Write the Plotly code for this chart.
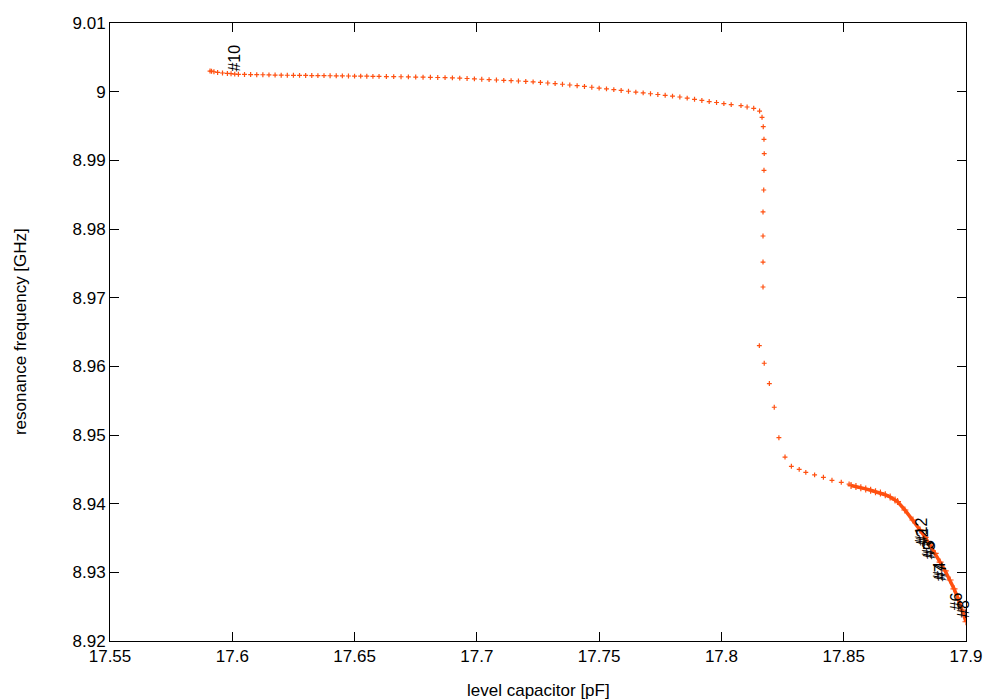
import plotly.graph_objects as go

# ---- data ----
# start cluster + upper plateau + vertical drop + knee (sparse markers)
cap_sparse = [
    17.5909, 17.5915, 17.5925, 17.5940, 17.5960, 17.5980, 17.5995, 17.6010,
    17.6025, 17.6050, 17.6075, 17.6100, 17.6125, 17.6150, 17.6175, 17.6200,
    17.6225, 17.6250, 17.6275, 17.6300, 17.6325, 17.6350, 17.6375, 17.6400,
    17.6425, 17.6450, 17.6475, 17.6500, 17.6525, 17.6550, 17.6575, 17.6600,
    17.6630, 17.6660, 17.6690, 17.6720, 17.6750, 17.6780, 17.6810, 17.6840,
    17.6870, 17.6900, 17.6930, 17.6960, 17.6990, 17.7020, 17.7050, 17.7080,
    17.7110, 17.7140, 17.7170, 17.7200, 17.7230, 17.7260, 17.7290, 17.7320,
    17.7350, 17.7380, 17.7410, 17.7440, 17.7470, 17.7500, 17.7530, 17.7560,
    17.7590, 17.7620, 17.7650, 17.7680, 17.7710, 17.7740, 17.7770, 17.7800,
    17.7830, 17.7860, 17.7890, 17.7920, 17.7950, 17.7980, 17.8010, 17.8040,
    17.8080, 17.8105, 17.8132, 17.8156, 17.8166, 17.8171, 17.8174, 17.8175,
    17.8174, 17.8173, 17.8170, 17.8170, 17.8170, 17.8170, 17.8155, 17.8175,
    17.8196, 17.8216, 17.8235, 17.8260, 17.8286, 17.8318, 17.8345, 17.8381,
    17.8417, 17.8452, 17.8490, 17.8522,
]
freq_sparse = [
    9.00300, 9.00298, 9.00290, 9.00280, 9.00272, 9.00265, 9.00262, 9.00256,
    9.00253, 9.00251, 9.00249, 9.00247, 9.00246, 9.00244, 9.00242, 9.00240,
    9.00239, 9.00238, 9.00237, 9.00236, 9.00235, 9.00234, 9.00233, 9.00232,
    9.00231, 9.00230, 9.00228, 9.00227, 9.00226, 9.00225, 9.00223, 9.00222,
    9.00220, 9.00219, 9.00217, 9.00215, 9.00213, 9.00211, 9.00209, 9.00206,
    9.00204, 9.00201, 9.00197, 9.00192, 9.00187, 9.00181, 9.00175, 9.00170,
    9.00165, 9.00160, 9.00155, 9.00149, 9.00142, 9.00134, 9.00126, 9.00118,
    9.00108, 9.00097, 9.00087, 9.00076, 9.00064, 9.00052, 9.00041, 9.00030,
    9.00018, 9.00006, 8.99994, 8.99982, 8.99970, 8.99959, 8.99947, 8.99935,
    8.99922, 8.99906, 8.99889, 8.99872, 8.99856, 8.99842, 8.99826, 8.99812,
    8.99796, 8.99777, 8.99758, 8.99718, 8.99627, 8.99490, 8.99306, 8.99097,
    8.98855, 8.98568, 8.98248, 8.97898, 8.97519, 8.97155, 8.96302, 8.96045,
    8.95749, 8.95404, 8.94961, 8.94679, 8.94544, 8.94500, 8.94455, 8.94420,
    8.94384, 8.94340, 8.94311, 8.94286,
]

# dense tail (points so close they merge into a thick line)
cap_dense = [
    17.8530, 17.8550, 17.8570, 17.8590, 17.8610, 17.8630, 17.8650, 17.8670,
    17.8690, 17.8710, 17.8720, 17.8750, 17.8783, 17.8812, 17.8833, 17.8853,
    17.8874, 17.8894, 17.8915, 17.8935, 17.8951, 17.8967, 17.8984, 17.9000,
]
freq_dense = [
    8.94264, 8.94250, 8.94230, 8.94215, 8.94195, 8.94175, 8.94155, 8.94130,
    8.94097, 8.94055, 8.94030, 8.93908, 8.93762, 8.93617, 8.93510, 8.93398,
    8.93275, 8.93150, 8.93020, 8.92888, 8.92760, 8.92626, 8.92450, 8.92280,
]

# point labels
label_text = ["#10", "#12", "#2", "#3", "#5", "#4", "#7", "#6", "#8"]
label_cap = [17.6011, 17.8818, 17.8822, 17.8848, 17.8852, 17.8893, 17.8897, 17.8960, 17.8990]
label_freq = [9.00270, 8.93380, 8.93360, 8.93180, 8.93160, 8.92860, 8.92840, 8.92420, 8.92300]

x_ticks = [17.55, 17.6, 17.65, 17.7, 17.75, 17.8, 17.85, 17.9]
x_tick_text = ["17.55", "17.6", "17.65", "17.7", "17.75", "17.8", "17.85", "17.9"]
y_ticks = [8.92, 8.93, 8.94, 8.95, 8.96, 8.97, 8.98, 8.99, 9.00, 9.01]
y_tick_text = ["8.92", "8.93", "8.94", "8.95", "8.96", "8.97", "8.98", "8.99", "9", "9.01"]

x_title = "level capacitor [pF]"
y_title = "resonance frequency [GHz]"

COLOR = "#ff5010"
FONT = "Liberation Sans, Arial, Helvetica, sans-serif"

fig = go.Figure()
fig.add_trace(go.Scatter(
    x=cap_sparse, y=freq_sparse, mode="markers",
    marker=dict(symbol="cross-thin", size=3.5, color=COLOR,
                line=dict(color=COLOR, width=1.2)),
    showlegend=False, hoverinfo="x+y",
))
fig.add_trace(go.Scatter(
    x=cap_dense, y=freq_dense, mode="lines+markers",
    line=dict(color=COLOR, width=3.5),
    marker=dict(symbol="cross-thin", size=5, color=COLOR,
                line=dict(color=COLOR, width=1.2)),
    showlegend=False, hoverinfo="x+y",
))

for t, xv, yv in zip(label_text, label_cap, label_freq):
    fig.add_annotation(
        x=xv, y=yv, text=t, textangle=-90, showarrow=False,
        xanchor="center", yanchor="bottom",
        font=dict(family=FONT, size=16, color="black"),
    )

# axis titles
fig.add_annotation(
    xref="paper", yref="paper", x=-0.105, y=0.5, text=y_title, textangle=-90,
    showarrow=False, xanchor="center", yanchor="middle",
    font=dict(family=FONT, size=17, color="black"),
)
fig.add_annotation(
    xref="paper", yref="paper", x=0.5, y=-0.0793, text=x_title,
    showarrow=False, xanchor="center", yanchor="middle",
    font=dict(family=FONT, size=17, color="black"),
)

axis_common = dict(
    showgrid=False, zeroline=False, showline=True, linecolor="black", linewidth=1,
    mirror="allticks", ticks="inside", ticklen=9, tickcolor="black", tickwidth=1,
    tickfont=dict(family=FONT, size=17, color="black"), automargin=False,
)

fig.update_xaxes(range=[17.55, 17.9], tickvals=x_ticks, ticktext=x_tick_text, **axis_common)
fig.update_yaxes(range=[8.92, 9.01], tickvals=y_ticks, ticktext=y_tick_text, **axis_common)

fig.update_layout(
    width=992, height=692,
    margin=dict(l=102, r=34, t=15, b=59),
    plot_bgcolor="white", paper_bgcolor="white",
    font=dict(family=FONT, color="black"),
)

fig.write_html("out.html")
